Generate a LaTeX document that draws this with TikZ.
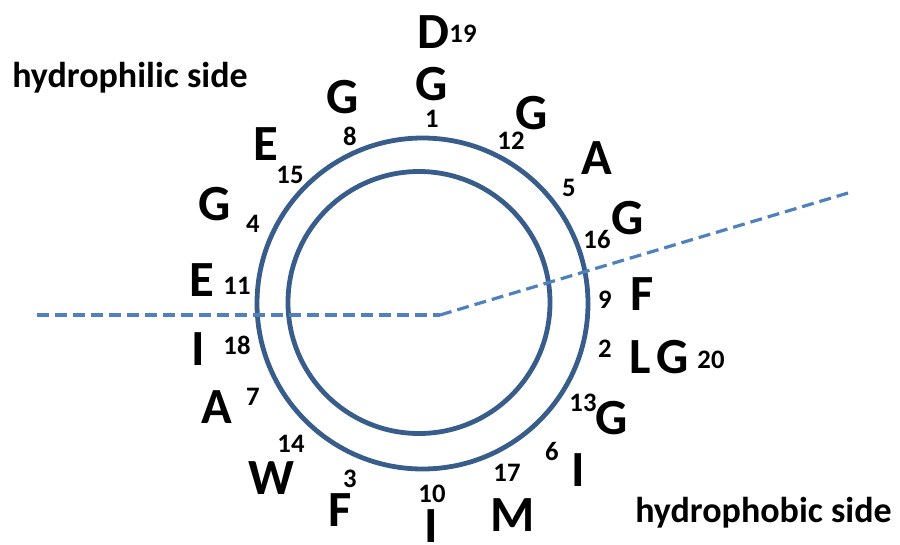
\documentclass[tikz,border=0pt]{standalone}
\usepackage{fontspec}
\setmainfont{Carlito}
\definecolor{ringblue}{HTML}{385D8A}
\definecolor{axisblue}{HTML}{4F81BD}
\begin{document}
\begin{tikzpicture}[x=0.75pt,y=-0.75pt,
  res/.style={font=\fontsize{38}{40}\selectfont\bfseries, inner sep=0pt},
  num/.style={font=\fontsize{20}{22}\selectfont\bfseries, inner sep=0pt},
  sidelabel/.style={font=\fontsize{27}{29}\selectfont\bfseries, inner sep=0pt, anchor=base west},
  ring/.style={draw=ringblue, line width=3.6pt},
  axisline/.style={draw=axisblue, line width=3pt, dash pattern=on 9pt off 4.5pt}]
\useasboundingbox (0,0) rectangle (900,544);
% rings
\draw[ring] (422.5,303.5) circle [radius=165.5];
\draw[ring] (419,302.5) circle [radius=131];
% dashed axis
\coordinate (axL) at (37,315);
\coordinate (axC) at (440,315);
\coordinate (axR) at (848,193);
\draw[axisline] (axL) -- (axC);
\draw[axisline, line width=2.4pt] (axC) -- (axR);
% side labels
\node[sidelabel] (philic) at (12,87) {hydrophilic side};
\node[sidelabel] (phobic) at (635,522) {hydrophobic side};
% residues
\node[res] (r19) at (433,32) {D};   \node[num] (n19) at (463,34) {19};
\node[res] (r1)  at (432,84) {G};   \node[num] (n1)  at (432,119) {1};
\node[res] (r8)  at (343,97) {G};   \node[num] (n8)  at (350,136) {8};
\node[res] (r12) at (532,113) {G};  \node[num] (n12) at (511,141) {12};
\node[res] (r15) at (266,144) {E};  \node[num] (n15) at (290,175) {15};
\node[res] (r5)  at (597,158) {A};  \node[num] (n5)  at (569,188) {5};
\node[res] (r4)  at (215,204) {G};  \node[num] (n4)  at (253,224) {4};
\node[res] (r16) at (628,218) {G};  \node[num] (n16) at (597,239) {16};
\node[res] (r11) at (202,280) {E};  \node[num] (n11) at (237,286) {11};
\node[res] (r9)  at (642,294) {F};  \node[num] (n9)  at (605,300) {9};
\node[res] (r18) at (198,349) {I};  \node[num] (n18) at (237,345) {18};
\node[res] (r2)  at (640,357) {L};  \node[num] (n2)  at (605,349) {2};
\node[res] (r20) at (673,357) {G};  \node[num] (n20) at (711,360) {20};
\node[res] (r7)  at (217,407) {A};  \node[num] (n7)  at (253,397) {7};
\node[res] (r13) at (612,418) {G};  \node[num] (n13) at (583,403) {13};
\node[res] (r14) at (271,478) {W};  \node[num] (n14) at (291,444) {14};
\node[res] (r6)  at (578,470) {I};  \node[num] (n6)  at (552,451) {6};
\node[res] (r3)  at (340,510) {F};  \node[num] (n3)  at (350,479) {3};
\node[res] (r17) at (513,515) {M};  \node[num] (n17) at (507,473) {17};
\node[res] (r10) at (431,526) {I};  \node[num] (n10) at (432,494) {10};
\end{tikzpicture}
\end{document}
